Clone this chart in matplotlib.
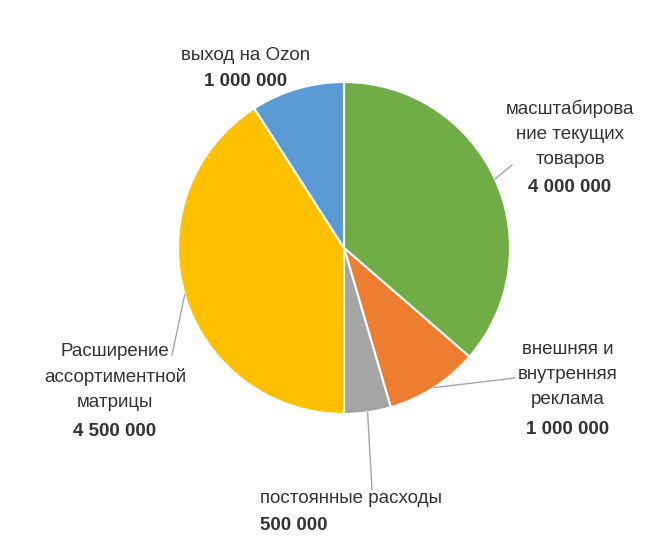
import matplotlib
matplotlib.use("Agg")
import matplotlib.pyplot as plt
import numpy as np

categories = ["масштабирова\nние текущих\nтоваров", "внешняя и\nвнутренняя\nреклама",
              "постоянные расходы", "Расширение\nассортиментной\nматрицы", "выход на Ozon"]
values = [4000000, 1000000, 500000, 4500000, 1000000]
value_labels = ["4 000 000", "1 000 000", "500 000", "4 500 000", "1 000 000"]
colors = ["#70AD47", "#ED7D31", "#A5A5A5", "#FFC000", "#5B9BD5"]

plt.rcParams['font.family'] = ['Liberation Sans', 'DejaVu Sans']
fig = plt.figure(figsize=(6.57, 5.4), dpi=100)
ax = fig.add_axes([0, 0, 1, 1])

cx, cy, R = 344, 292, 166
wedges, _ = ax.pie(values, colors=colors, startangle=90, counterclock=False,
                   center=(cx, cy), radius=R, wedgeprops=dict(edgecolor='white', linewidth=1.5),
                   frame=True)
ax.set_xlim(0, 657); ax.set_ylim(0, 540); ax.set_aspect('equal'); ax.axis('off')

label_pos = [(570, 440, 'center'), (568, 199, 'center'), (260, 50, 'left'),
             (115, 197, 'center'), (246, 493, 'center')]
line_end = [(512, 375), (515, 162), (372, 50), (172, 185), None]
step = 26.5
for i, w in enumerate(wedges):
    x, y, ha = label_pos[i]
    txt = categories[i]
    nl = txt.count("\n") + 1
    ax.text(x, y, txt, ha=ha, va='top', fontsize=13.5, color='#333333', linespacing=1.6)
    ax.text(x, y - nl * step, value_labels[i], ha=ha, va='top', fontsize=13.5,
            fontweight='bold', color='#333333')
    if line_end[i] is not None:
        ang = np.deg2rad((w.theta1 + w.theta2) / 2)
        px, py = cx + R * np.cos(ang), cy + R * np.sin(ang)
        ax.plot([px, line_end[i][0]], [py, line_end[i][1]], color='#A6A6A6', lw=1)

fig.savefig("out.png", dpi=100)
